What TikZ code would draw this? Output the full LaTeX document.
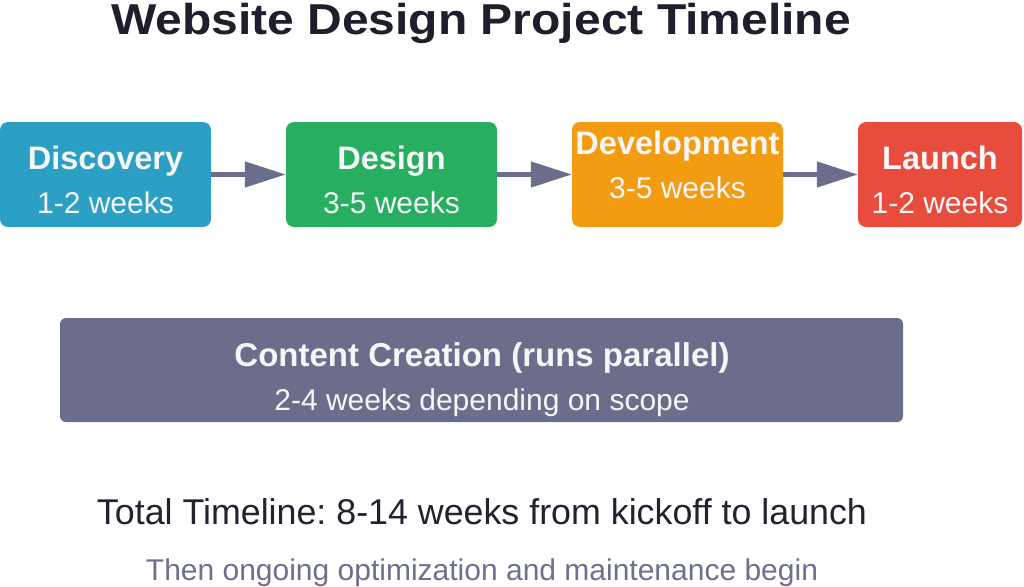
\documentclass[tikz,border=0pt]{standalone}
\usepackage{fontspec}
\setmainfont{Liberation Sans}[Ligatures=NoCommon]
\frenchspacing
\usetikzlibrary{arrows.meta}
\definecolor{titlecol}{HTML}{1E1E2C}
\definecolor{disccol}{HTML}{2BA0C4}
\definecolor{descol}{HTML}{27AE60}
\definecolor{devcol}{HTML}{F39C12}
\definecolor{launchcol}{HTML}{E74C3C}
\definecolor{contcol}{HTML}{6B6E8A}
\definecolor{arrcol}{HTML}{6B6D8A}
\definecolor{boxtext}{HTML}{F4F6F7}
\definecolor{darktext}{HTML}{222230}
\definecolor{subtext}{HTML}{6E7090}
\tikzset{
  phasebox/.style={rounded corners=8pt, inner sep=0pt, draw=none},
  headtext/.style={anchor=base, inner sep=0pt, text=boxtext, font=\fontsize{32.5}{34}\selectfont\bfseries},
  subtxt/.style={anchor=base, inner sep=0pt, text=boxtext, font=\fontsize{30}{32}\selectfont},
  flow/.style={draw=arrcol, line width=4.5pt, -{Triangle[length=41pt,width=25pt]}},
}
\begin{document}
\begin{tikzpicture}[x=1pt,y=-1pt]
\useasboundingbox (0,0) rectangle (1024,586);
\fill[white] (0,0) rectangle (1024,586);
% title
\node[anchor=base, inner sep=0pt, text=titlecol, font=\fontsize{48}{50}\selectfont\bfseries] (title) at (481,35) {\scalebox{1}[0.9]{Website Design Project Timeline}};
% phase boxes
\node[phasebox, fill=disccol, minimum width=211pt, minimum height=105pt] (disc) at (105.5,174.5) {};
\node[phasebox, fill=descol, minimum width=211pt, minimum height=105pt] (des) at (391.5,174.5) {};
\node[phasebox, fill=devcol, minimum width=211pt, minimum height=105pt] (dev) at (677.5,174.5) {};
\node[phasebox, fill=launchcol, minimum width=164pt, minimum height=105pt] (lau) at (940,174.5) {};
% box texts
\node[headtext] (discA) at (105.5,169) {Discovery};
\node[subtxt] (discB) at (105.5,213) {1-2 weeks};
\node[headtext] (desA) at (391.5,169) {Design};
\node[subtxt] (desB) at (391.5,213) {3-5 weeks};
\node[headtext] (devA) at (677.5,154) {Development};
\node[subtxt] (devB) at (677.5,198) {3-5 weeks};
\node[headtext] (lauA) at (940,169) {Launch};
\node[subtxt] (lauB) at (940,213) {1-2 weeks};
% arrows
\draw[flow] (disc.east) -- (des.west);
\draw[flow] (des.east) -- (dev.west);
\draw[flow] (dev.east) -- (lau.west);
% content creation
\node[phasebox, rounded corners=6pt, fill=contcol, minimum width=843pt, minimum height=104pt] (cont) at (481.5,370) {};
\node[headtext, font=\fontsize{33}{35}\selectfont\bfseries] (contA) at (482,366) {Content Creation (runs parallel)};
\node[subtxt] (contB) at (482,410) {2-4 weeks depending on scope};
% bottom texts
\node[anchor=base, inner sep=0pt, text=darktext, font=\fontsize{35.8}{38}\selectfont] (total) at (482,524) {Total Timeline: 8-14 weeks from kickoff to launch};
\node[anchor=base, inner sep=0pt, text=subtext, font=\fontsize{30}{32}\selectfont] (ongoing) at (482,580) {Then ongoing optimization and maintenance begin};
\end{tikzpicture}
\end{document}
